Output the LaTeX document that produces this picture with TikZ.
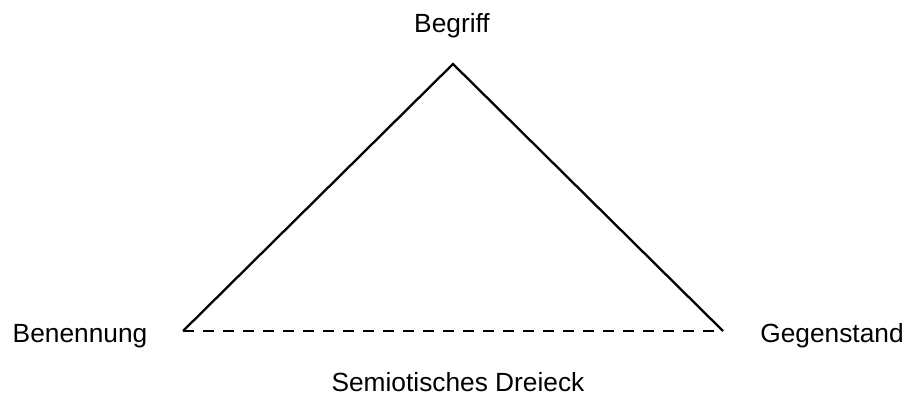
\documentclass[tikz,border=0pt]{standalone}
\usepackage{fontspec}
\setmainfont{Liberation Sans}
\begin{document}
\begin{tikzpicture}[x=1pt,y=-1pt,
  lbl/.style={anchor=base,inner sep=0pt,font=\fontsize{26.3}{31}\selectfont},
  edge/.style={line width=2.3pt,line join=miter},
  dashedge/.style={line width=2.3pt,dash pattern=on 11pt off 9pt}]
\useasboundingbox (0,0) rectangle (909,396);
\coordinate (apex) at (453,64);
\coordinate (left) at (183,331);
\coordinate (right) at (723,331);
\draw[edge] (left) -- (apex) -- (right);
\draw[dashedge] (left) -- (right);
\node[lbl] (begriff) at (452,33) {Begriff};
\node[lbl] (benennung) at (80,342) {Benennung};
\node[lbl] (gegenstand) at (832,342) {Gegenstand};
\node[lbl] (title) at (458,391) {Semiotisches Dreieck};
\end{tikzpicture}
\end{document}
